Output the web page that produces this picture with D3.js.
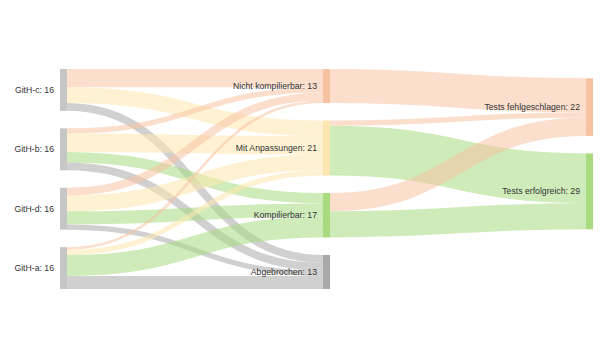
<!DOCTYPE html>
<html><head><meta charset="utf-8">
<script src="https://cdn.jsdelivr.net/npm/d3@7"></script>
<style>body{margin:0;background:#fff}svg{display:block}text{font-family:Arial,"Liberation Sans",sans-serif}</style>
</head><body><svg id="c" width="600" height="360"></svg>
<script>
const nodeNames = ["GitH-c","GitH-b","GitH-d","GitH-a","Nicht kompilierbar","Mit Anpassungen","Kompilierbar","Abgebrochen","Tests fehlgeschlagen","Tests erfolgreich"];
const linkSources = ["GitH-c","GitH-c","GitH-c","GitH-b","GitH-b","GitH-b","GitH-b","GitH-d","GitH-d","GitH-d","GitH-d","GitH-a","GitH-a","GitH-a","GitH-a","Nicht kompilierbar","Mit Anpassungen","Mit Anpassungen","Kompilierbar","Kompilierbar"];
const linkTargets = ["Nicht kompilierbar","Mit Anpassungen","Abgebrochen","Nicht kompilierbar","Mit Anpassungen","Kompilierbar","Abgebrochen","Nicht kompilierbar","Mit Anpassungen","Kompilierbar","Abgebrochen","Nicht kompilierbar","Mit Anpassungen","Kompilierbar","Abgebrochen","Tests fehlgeschlagen","Tests fehlgeschlagen","Tests erfolgreich","Tests fehlgeschlagen","Tests erfolgreich"];
const linkValues = [7,6,3,2,7,4,3,3,6,5,2,1,2,8,5,13,2,19,7,10];

const color = d3.scaleOrdinal().domain(nodeNames)
  .range(["#c6c6c6","#c6c6c6","#c6c6c6","#c6c6c6","#f7c2a2","#fde7ae","#a8da7f","#a9a9a9","#f7c2a2","#a8da7f"]);

const svg = d3.select("#c");
const X0 = 60, X1 = 593, Y0 = 69, Y1 = 289, NW = 7, PAD = 17.5;

// build graph
const nodes = nodeNames.map(n => ({name:n, src:[], tgt:[]}));
const byName = new Map(nodes.map(n => [n.name, n]));
const links = linkValues.map((v,i) => ({source:byName.get(linkSources[i]), target:byName.get(linkTargets[i]), value:v}));
links.forEach(l => { l.source.src.push(l); l.target.tgt.push(l); });
nodes.forEach(n => {
  n.value = Math.max(d3.sum(n.src, l => l.value), d3.sum(n.tgt, l => l.value));
});
// depths
nodes.forEach(n => n.depth = 0);
for (let it = 0; it < nodes.length; it++) links.forEach(l => { l.target.depth = Math.max(l.target.depth, l.source.depth + 1); });
const maxDepth = d3.max(nodes, n => n.depth);
const columns = d3.range(maxDepth + 1).map(d => nodes.filter(n => n.depth === d));

const xScale = d3.scaleLinear().domain([0, maxDepth]).range([X0, X1 - NW]);
const ky = d3.min(columns, c => (Y1 - Y0 - (c.length - 1) * PAD) / d3.sum(c, n => n.value));
const yScale = d3.scaleLinear().domain([0, 1]).range([0, ky]);
const align = [0, 0, 0.135];

columns.forEach((col, d) => {
  const total = d3.sum(col, n => n.value);
  const free = (Y1 - Y0) - yScale(total) - (col.length - 1) * PAD;
  let y = Y0 + free * align[d];
  col.forEach(n => {
    n.x0 = xScale(d); n.x1 = n.x0 + NW;
    n.y0 = y; n.y1 = y + yScale(n.value);
    y = n.y1 + PAD;
  });
});
nodes.forEach(n => {
  n.src.sort((a,b) => a.target.y0 - b.target.y0);
  n.tgt.sort((a,b) => a.source.y0 - b.source.y0);
  let y = n.y0;
  n.src.forEach(l => { l.w = yScale(l.value); l.ys = y + l.w/2; y += l.w; });
  y = n.y0;
  n.tgt.forEach(l => { l.yt = y + yScale(l.value)/2; y += yScale(l.value); });
});

const lh = d3.linkHorizontal();
svg.append("g").selectAll("path").data(links).join("path")
  .attr("d", l => lh({source:[l.source.x1, l.ys], target:[l.target.x0, l.yt]}))
  .attr("fill", "none")
  .attr("stroke", l => color(l.target.name))
  .attr("stroke-opacity", 0.55)
  .attr("stroke-width", l => l.w);

svg.append("g").selectAll("rect").data(nodes).join("rect")
  .attr("x", n => n.x0).attr("y", n => n.y0)
  .attr("width", NW).attr("height", n => n.y1 - n.y0)
  .attr("fill", n => color(n.name));

svg.append("g").selectAll("text").data(nodes).join("text")
  .attr("x", n => n.x0 - 6).attr("y", n => (n.y0 + n.y1)/2)
  .attr("dy", "0.35em").attr("text-anchor", "end")
  .attr("font-size", "8.7px").attr("fill", "#333")
  .text(n => `${n.name}: ${n.value}`);
</script></body></html>
